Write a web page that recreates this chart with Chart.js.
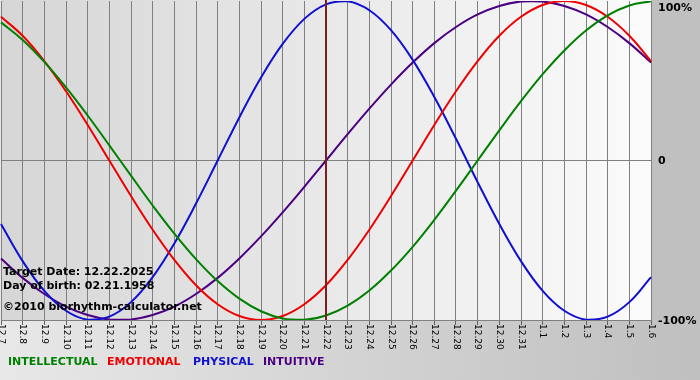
<!DOCTYPE html>
<html><head><meta charset="utf-8">
<script src="https://cdn.jsdelivr.net/npm/chart.js@4/dist/chart.umd.min.js"></script>
<style>html,body{margin:0;padding:0;background:#c0c0c0}#wrap{width:700px;height:380px;position:relative}</style>
</head><body><div id="wrap"><canvas id="c" width="700" height="380"></canvas></div>
<script>
const dates = ["12.7","12.8","12.9","12.10","12.11","12.12","12.13","12.14","12.15","12.16","12.17","12.18","12.19","12.20","12.21","12.22","12.23","12.24","12.25","12.26","12.27","12.28","12.29","12.30","12.31","1.1","1.2","1.3","1.4","1.5","1.6"];
const intellectual = [86.6,75.6,61.8,45.8,28.2,9.5,-9.5,-28.2,-45.8,-61.8,-75.6,-86.6,-94.5,-99.0,-99.9,-97.2,-91.0,-81.5,-69.0,-54.1,-37.2,-18.9,0,18.9,37.2,54.1,69.0,81.5,91.0,97.2,99.9];
const emotional = [90.1,78.2,62.3,43.4,22.3,0,-22.3,-43.4,-62.3,-78.2,-90.1,-97.5,-100,-97.5,-90.1,-78.2,-62.3,-43.4,-22.3,0,22.3,43.4,62.3,78.2,90.1,97.5,100,97.5,90.1,78.2,62.3];
const physical = [-39.8,-63.1,-81.7,-94.2,-99.8,-97.9,-88.8,-73.1,-52.0,-27.0,0,27.0,52.0,73.1,88.8,97.9,99.8,94.2,81.7,63.1,39.8,13.6,-13.6,-39.8,-63.1,-81.7,-94.2,-99.8,-97.9,-88.8,-73.1];
const intuitive = [-61.4,-73.6,-83.7,-91.6,-96.9,-99.7,-99.7,-96.9,-91.6,-83.7,-73.6,-61.4,-47.6,-32.5,-16.5,0,16.5,32.5,47.6,61.4,73.6,83.7,91.6,96.9,99.7,99.7,96.9,91.6,83.7,73.6,61.4];
const seriesNames = ["INTELLECTUAL","EMOTIONAL","PHYSICAL","INTUITIVE"];
const seriesColors = ["#008000","#ee0000","#1010d0","#4b0082"];
const targetDate = "12.22";
const yTickValues = [100, 0, -100];
const yTickLabels = ["100%", "0", "-100%"];
const infoLines = ["Target Date: 12.22.2025", "Day of birth: 02.21.1958", "\u00A92010 biorhythm-calculator.net"];

const FONT = '"DejaVu Sans", Verdana, sans-serif';

const decor = {
  id: 'decor',
  beforeDraw(chart) {
    const ctx = chart.ctx, a = chart.chartArea;
    ctx.save();
    const g = ctx.createLinearGradient(0, 0, chart.width, 0);
    g.addColorStop(0, '#e8e8e8');
    g.addColorStop(0.93, '#c2c2c2');
    g.addColorStop(1, '#c0c0c0');
    ctx.fillStyle = g;
    ctx.fillRect(0, 0, chart.width, chart.height);
    ctx.fillStyle = '#c0c0c0';
    ctx.fillRect(a.right, 0, chart.width - a.right, a.bottom);
    const p = ctx.createLinearGradient(a.left, 0, a.right, 0);
    p.addColorStop(0, '#d6d6d6');
    p.addColorStop(1, '#fbfbfb');
    ctx.fillStyle = p;
    ctx.fillRect(a.left, 0, a.right - a.left, a.bottom);
    ctx.restore();
  },
  afterDatasetsDraw(chart) {
    const ctx = chart.ctx, a = chart.chartArea, xs = chart.scales.x;
    const x = xs.getPixelForValue(dates.indexOf(targetDate));
    ctx.save();
    ctx.strokeStyle = '#7a1f1f';
    ctx.lineWidth = 2;
    ctx.beginPath();
    ctx.moveTo(x, 0);
    ctx.lineTo(x, a.bottom);
    ctx.stroke();
    ctx.restore();
  },
  afterDraw(chart) {
    const ctx = chart.ctx, a = chart.chartArea, xs = chart.scales.x, ys = chart.scales.y;
    ctx.save();
    // rotated date labels
    ctx.fillStyle = '#000';
    ctx.font = '9px ' + FONT;
    ctx.textAlign = 'left';
    ctx.textBaseline = 'middle';
    dates.forEach((d, i) => {
      const x = xs.getPixelForValue(i);
      ctx.save();
      ctx.translate(x, a.bottom + 4);
      ctx.rotate(Math.PI / 2);
      ctx.fillText(d, 0, 0);
      ctx.restore();
    });
    // right percentage labels
    ctx.font = 'bold 11px ' + FONT;
    yTickValues.forEach((v, i) => {
      let y = ys.getPixelForValue(v);
      y = Math.max(y, a.top + 6) + 1;
      ctx.fillText(yTickLabels[i], a.right + 7, y);
    });
    // info text
    const infoY = [a.bottom - 48, a.bottom - 34, a.bottom - 13];
    infoLines.forEach((t, i) => ctx.fillText(t, 3, infoY[i]));
    // legend
    const lx = [8, 107, 193, 263];
    seriesNames.forEach((n, i) => {
      ctx.fillStyle = seriesColors[i];
      ctx.fillText(n, lx[i], 362);
    });
    ctx.restore();
  }
};

const mk = (label, data, color) => ({
  label, data, borderColor: color, borderWidth: 2, pointRadius: 0,
  tension: 0.4, fill: false
});

new Chart(document.getElementById('c'), {
  type: 'line',
  data: {
    labels: dates,
    datasets: [
      mk(seriesNames[0], intellectual, seriesColors[0]),
      mk(seriesNames[1], emotional, seriesColors[1]),
      mk(seriesNames[2], physical, seriesColors[2]),
      mk(seriesNames[3], intuitive, seriesColors[3])
    ]
  },
  options: {
    responsive: false,
    animation: false,
    devicePixelRatio: 1,
    layout: { padding: { top: 1, left: 1, right: 0, bottom: 0 } },
    plugins: { legend: { display: false }, tooltip: { enabled: false } },
    scales: {
      x: {
        type: 'category', offset: false,
        grid: { color: '#808080', lineWidth: 1, drawTicks: true, tickLength: 5, tickColor: '#606060' },
        border: { color: '#808080' },
        ticks: { display: false },
        afterFit: s => { s.height = 60; }
      },
      y: {
        position: 'right', min: -100, max: 100,
        ticks: { display: false, stepSize: 100 },
        grid: { color: c => (c.tick && c.tick.value === 0) ? '#808080' : 'rgba(0,0,0,0)', drawTicks: false },
        border: { display: false },
        afterFit: s => { s.width = 49; }
      }
    }
  },
  plugins: [decor]
});
</script>
</body></html>
